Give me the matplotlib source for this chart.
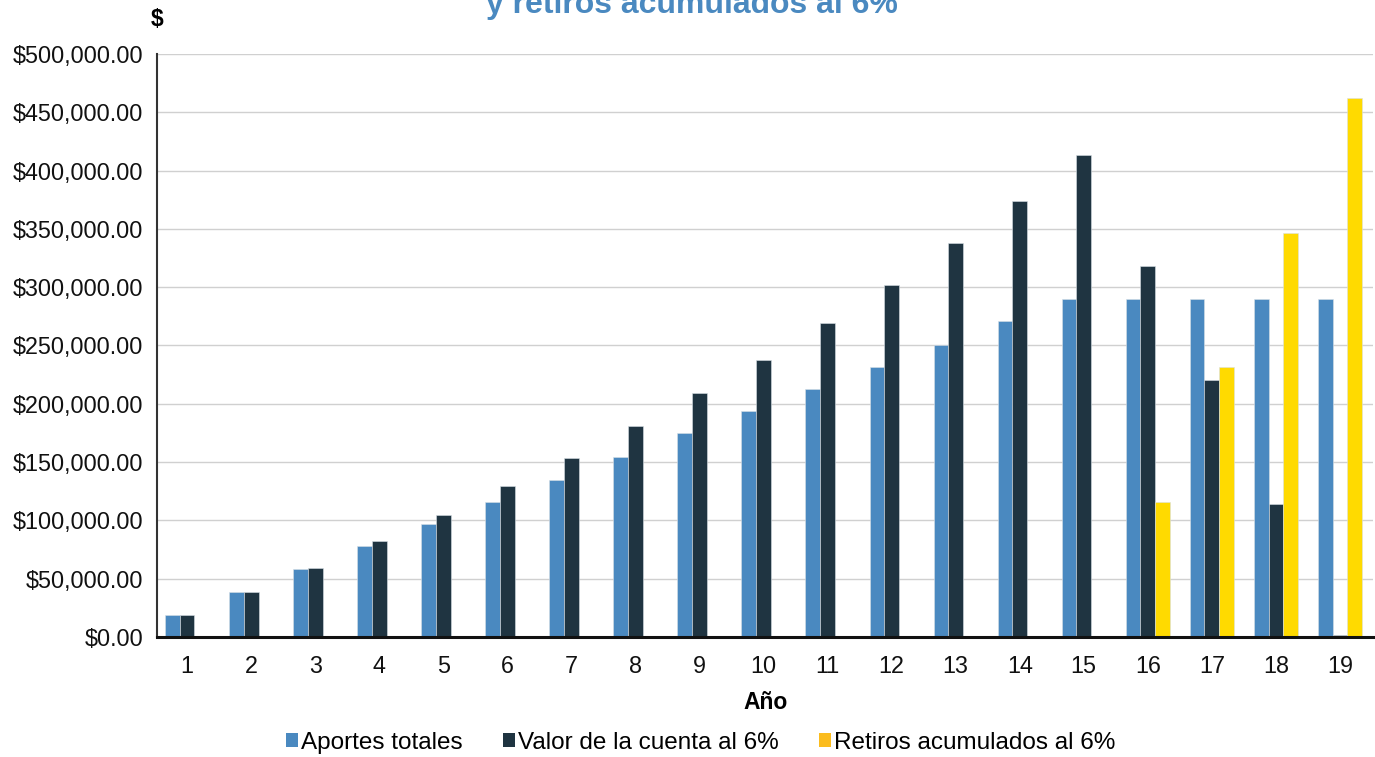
import matplotlib
matplotlib.use("Agg")
import matplotlib.pyplot as plt
from matplotlib.patches import Patch
from matplotlib.ticker import FuncFormatter
import numpy as np

plt.rcParams['font.family'] = ['Liberation Sans', 'DejaVu Sans']

# values, in dollars
years = list(range(1, 20))
aportes = [19300, 38600, 58000, 78000, 96900, 115800, 134600, 154000, 175000, 193800,
           212700, 231600, 250300, 271000, 290000, 290000, 290000, 290000, 290000]
valor = [19300, 38600, 59200, 82300, 104600, 129500, 153500, 181000, 209000, 237600,
         269500, 302000, 338000, 374000, 413500, 318500, 220000, 114000, 1800]
retiros = [0, 0, 0, 0, 0, 0, 0, 0, 0, 0, 0, 0, 0, 0, 0,
           115800, 231600, 346800, 462500]

series_names = ["Aportes totales", "Valor de la cuenta al 6%", "Retiros acumulados al 6%"]
bar_colors = ['#4a89c0', '#1f3441', '#ffda00']
legend_colors = ['#4a89c0', '#1f3441', '#fbbc1e']

fig = plt.figure(figsize=(13.75, 7.57), dpi=100)
ax = fig.add_axes([0.1142, 0.1585, 0.8845, 0.7702])

x = np.array(years)
w = 0.23
for i, vals in enumerate([aportes, valor, retiros]):
    ax.bar(x + (i - 1) * w, vals, width=w, color=bar_colors[i],
           edgecolor='#d8e0e6', linewidth=0.4, zorder=3)

ax.set_xlim(0.53, 19.52)
ax.set_ylim(0, 500000)
ax.set_xticks(years)
ax.set_yticks(np.arange(0, 500001, 50000))
ax.yaxis.set_major_formatter(FuncFormatter(lambda v, p: "${:,.2f}".format(v)))
ax.tick_params(axis='both', length=0, labelsize=16.8, colors='#111111', pad=10)
ax.tick_params(axis='x', pad=13)

ax.grid(True, axis='y', color='#d0d0d0', linewidth=1.0, zorder=0)
ax.spines['top'].set_visible(False)
ax.spines['right'].set_visible(False)
ax.spines['left'].set_color('#333333')
ax.spines['left'].set_linewidth(1.5)
ax.spines['bottom'].set_color('#111111')
ax.spines['bottom'].set_linewidth(2.2)
ax.spines['bottom'].set_zorder(4)

ax.set_xlabel("Año", fontsize=16.5, fontweight='bold', labelpad=9)
fig.text(157 / 1375, 1 - 20 / 757, "$", fontsize=16.5, fontweight='bold',
         ha='center', va='center')

# title, its upper line is cut off by the top edge
fig.text(692 / 1375, 1 - 13 / 757, "y retiros acumulados al 6%", fontsize=23,
         fontweight='bold', color='#4a89c0', ha='center', va='baseline')

handles = [Patch(facecolor=c, edgecolor='none') for c in legend_colors]
fig.legend(handles, series_names, loc='center', bbox_to_anchor=(0.5095, 1 - 743 / 757),
           ncol=3, frameon=False, fontsize=17.5, handlelength=0.5, handleheight=0.5,
           handletextpad=0.12, columnspacing=1.65)

fig.savefig("out.png", dpi=100)
